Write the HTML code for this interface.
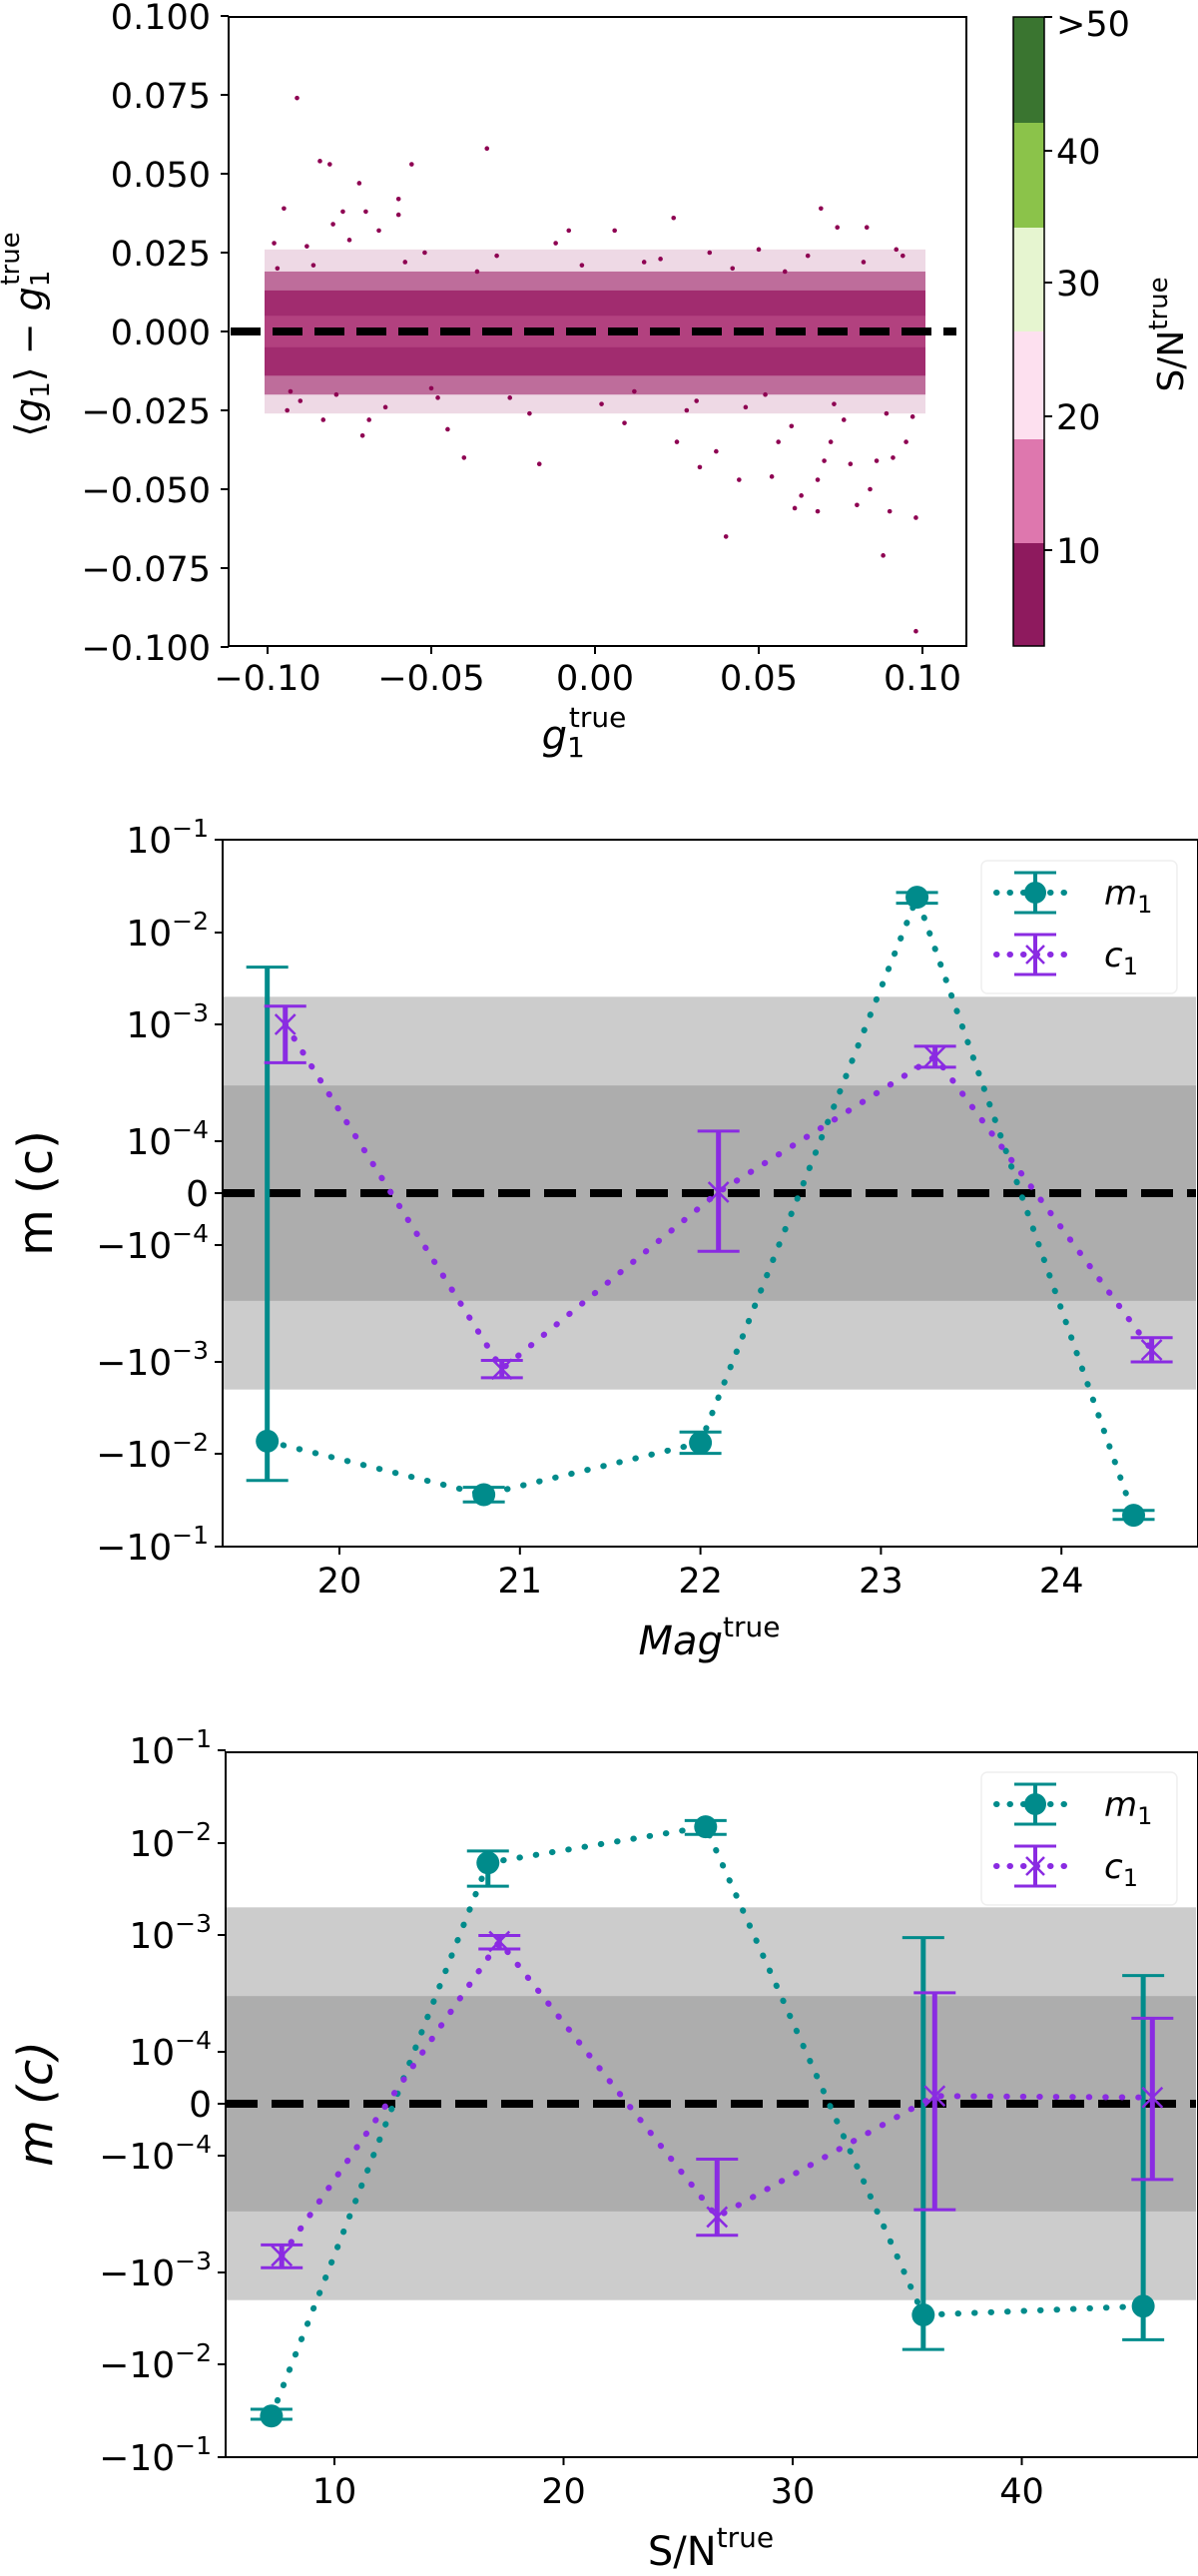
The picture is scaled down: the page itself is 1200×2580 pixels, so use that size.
<!DOCTYPE html>
<html><head><meta charset="utf-8"><style>
html,body{margin:0;padding:0;background:#fff;overflow:hidden}
svg{display:block}
text{font-family:"DejaVu Sans","Liberation Sans",sans-serif;fill:#000}
</style></head><body>
<svg id="fig" width="1200" height="2580" viewBox="0 0 1200 2580" xmlns="http://www.w3.org/2000/svg">
<g id="p1"></g>
<g id="p2"></g>
<g id="p3"></g>
</svg>
<script>
// ---------- Panel 1 data ----------
const scatX=[-0.091,-0.084,-0.081,-0.072,-0.056,-0.033,-0.060,-0.095,-0.077,-0.070,-0.060,0.024,0.069,0.074,0.083,-0.080,-0.066,-0.008,0.006,-0.040,-0.017,0.032,0.040,0.044,0.054,0.061,0.063,0.068,0.068,0.080,0.084,0.088,0.090,0.098,0.098,0.078,0.072,0.056,0.037,0.025,-0.071,-0.094,-0.083,-0.045,-0.069,0.009,0.095,0.086,0.070,0.091,-0.098,-0.088,-0.075,-0.052,-0.030,-0.012,0.015,0.035,0.050,0.065,0.092,-0.090,-0.064,-0.048,-0.020,0.002,0.028,0.046,0.060,0.076,0.097,-0.097,-0.086,-0.058,-0.036,-0.004,0.020,0.042,0.058,0.082,0.094,-0.093,-0.079,-0.050,-0.026,0.012,0.031,0.052,0.073,0.089];
const scatY=[0.074,0.054,0.053,0.047,0.053,0.058,0.042,0.039,0.038,0.038,0.037,0.036,0.039,0.033,0.033,0.034,0.032,0.032,0.032,-0.040,-0.042,-0.043,-0.065,-0.047,-0.046,-0.056,-0.052,-0.057,-0.047,-0.055,-0.050,-0.071,-0.057,-0.059,-0.095,-0.042,-0.035,-0.035,-0.038,-0.035,-0.033,-0.025,-0.028,-0.031,-0.028,-0.029,-0.035,-0.041,-0.041,-0.040,0.028,0.027,0.029,0.025,0.024,0.028,0.022,0.025,0.026,0.024,0.026,-0.022,-0.024,-0.021,-0.026,-0.023,-0.025,-0.024,-0.030,-0.028,-0.027,0.020,0.021,0.022,0.019,0.021,0.023,0.020,0.019,0.022,0.024,-0.019,-0.020,-0.018,-0.021,-0.019,-0.022,-0.020,-0.023,-0.026];
const p1XTicks=[-0.10,-0.05,0.00,0.05,0.10];
const p1XLabels=["\u22120.10","\u22120.05","0.00","0.05","0.10"];
const p1YTicks=[0.1,0.075,0.05,0.025,0,-0.025,-0.05,-0.075,-0.1];
const p1YLabels=["0.100","0.075","0.050","0.025","0.000","\u22120.025","\u22120.050","\u22120.075","\u22120.100"];
const cbLabels=["10","20","30","40",">50"];

// ---------- Panel 2 data ----------
const magX_m=[19.6,20.8,22.0,23.2,24.4];
const magM=[-7.3e-3,-2.76e-2,-7.6e-3,2.4e-2,-4.6e-2];
const magM_hi=[4.2e-3,-2.3e-2,-5.8e-3,2.7e-2,-4.07e-2];
const magM_lo=[-1.94e-2,-3.3e-2,-9.9e-3,2.07e-2,-5.1e-2];
const magX_c=[19.7,20.9,22.1,23.3,24.5];
const magC=[1.0e-3,-1.2e-3,2e-6,5.3e-4,-7.9e-4];
const magC_hi=[1.58e-3,-9.7e-4,1.22e-4,6.5e-4,-6.2e-4];
const magC_lo=[4.7e-4,-1.49e-3,-1.13e-4,4.3e-4,-1.0e-3];
const magXTicks=[20,21,22,23,24];

// ---------- Panel 3 data ----------
const snrX_m=[7.25,16.7,26.2,35.7,45.3];
const snrM=[-3.6e-2,6.1e-3,1.5e-2,-2.9e-3,-2.33e-3];
const snrM_hi=[-3.05e-2,8.2e-3,1.75e-2,9.5e-4,4.5e-4];
const snrM_lo=[-3.9e-2,3.4e-3,1.24e-2,-6.9e-3,-5.4e-3];
const snrX_c=[7.7,17.2,26.7,36.2,45.7];
const snrC=[-7.2e-4,8.8e-4,-3.35e-4,1.5e-5,1.2e-5];
const snrC_hi=[-5.8e-4,9.9e-4,-1.07e-4,3.2e-4,1.94e-4];
const snrC_lo=[-9.1e-4,7.6e-4,-4.8e-4,-2.9e-4,-1.6e-4];
const snrXTicks=[10,20,30,40];

const symTicks=[1e-1,1e-2,1e-3,1e-4,0,-1e-4,-1e-3,-1e-2,-1e-1];
const symExp=["\u22121","\u22122","\u22123","\u22124","","\u22124","\u22123","\u22122","\u22121"];
const bandLight=2e-3, bandDark=3e-4;

const NS="http://www.w3.org/2000/svg";
function mk(parent,tag,attrs){const e=document.createElementNS(NS,tag);for(const k in attrs)e.setAttribute(k,attrs[k]);parent.appendChild(e);return e;}

// ===== Panel 1 =====
(function(){
const g=document.getElementById('p1');
const L=229,R=968,T=17,B=647;
const xs=v=>268+(v+0.1)*3280;
const ys=v=>332-v/0.025*79;
let e=mk(g,'rect',{x:xs(-0.1)-3,y:ys(0.026),width:xs(0.1)-xs(-0.1)+6,height:ys(-0.026)-ys(0.026),fill:'#8e0152',opacity:0.15});

e=mk(g,'rect',{x:xs(-0.1)-3,y:ys(0.019),width:xs(0.1)-xs(-0.1)+6,height:ys(-0.02)-ys(0.019),fill:'#8e0152',opacity:0.5});

e=mk(g,'rect',{x:xs(-0.1)-3,y:ys(0.013),width:xs(0.1)-xs(-0.1)+6,height:ys(-0.014)-ys(0.013),fill:'#8e0152',opacity:0.6});

e=mk(g,'rect',{x:xs(-0.1)-3,y:ys(0.005),width:xs(0.1)-xs(-0.1)+6,height:ys(-0.005)-ys(0.005),fill:'#c85a92',opacity:0.45});

for(let i=0;i<scatX.length;i++){
  const c=mk(g,'circle',{cx:xs(scatX[i]),cy:ys(scatY[i]),r:2.3,fill:'#8e0152'});
  
  
}
e=mk(g,'line',{x1:231,x2:958,y1:ys(0),y2:ys(0),stroke:'#000','stroke-width':8,'stroke-dasharray':'30 12'});

e=mk(g,'rect',{x:L,y:T,width:R-L,height:B-T,fill:'none',stroke:'#000','stroke-width':2});

p1XTicks.forEach((v,i)=>{
  mk(g,'line',{x1:xs(v),x2:xs(v),y1:B,y2:B+8,stroke:'#000','stroke-width':2});
  const t=mk(g,'text',{x:xs(v),y:691,'font-size':35,'text-anchor':'middle'});t.textContent=p1XLabels[i];
  
});
p1YTicks.forEach((v,i)=>{
  mk(g,'line',{x1:L-8,x2:L,y1:ys(v),y2:ys(v),stroke:'#000','stroke-width':2});
  const t=mk(g,'text',{x:211,y:ys(v)+13,'font-size':35,'text-anchor':'end'});t.textContent=p1YLabels[i];
  
});
let t=mk(g,'text',{x:585,y:750,'font-size':40,'text-anchor':'middle','font-style':'italic'});
t.innerHTML='g<tspan font-size="28" dy="8" font-style="normal">1</tspan><tspan font-size="28" dy="-30" dx="-16" font-style="normal">true</tspan>';

t=mk(g,'text',{x:0,y:0,'font-size':38,'text-anchor':'middle',transform:'translate(42,335) rotate(-90)'});
t.innerHTML='\u27E8<tspan font-style="italic">g</tspan><tspan font-size="26" dy="7">1</tspan><tspan dy="-7">\u27E9 \u2212 </tspan><tspan font-style="italic">g</tspan><tspan font-size="26" dy="7">1</tspan><tspan font-size="26" dy="-30" dx="-15">true</tspan>';

const cbCols=['#8e1a5e','#de77ae','#fde0ef','#e6f5d0','#8bc34a','#3a7530'];
const cbEdges=[647,544,440,332,228,123,17];
for(let i=0;i<6;i++){
  const r=mk(g,'rect',{x:1015,y:cbEdges[i+1],width:31,height:cbEdges[i]-cbEdges[i+1],fill:cbCols[i]});
  
}
mk(g,'rect',{x:1015,y:17,width:31,height:630,fill:'none',stroke:'#000','stroke-width':1.5});
const cbTickY=[551,417,283,151,17];
cbLabels.forEach((s,i)=>{
  mk(g,'line',{x1:1046,x2:1054,y1:cbTickY[i],y2:cbTickY[i],stroke:'#000','stroke-width':2});
  const tt=mk(g,'text',{x:1058,y:cbTickY[i]+13+(i==4?6:0),'font-size':35});tt.textContent=s;
  
});
t=mk(g,'text',{x:0,y:0,'font-size':36,'text-anchor':'middle',transform:'translate(1185,335) rotate(-90)'});
t.innerHTML='S/N<tspan font-size="26" dy="-16">true</tspan>';

})();

// ===== symlog panels =====
function symY(y0){
  const off=[0,52,169,261,354];
  return v=>{const a=Math.abs(v);let d;
    if(a<=1e-4)d=a/1e-4*off[1];
    else{const l=Math.log10(a/1e-4);const k=Math.min(Math.floor(l),2);d=off[k+1]+(l-k)*(off[k+2]-off[k+1]);}
    return y0-(v<0?-d:d);};
}
function symPanel(gid,L,R,T,B,y0,xs,xTicks,xm,m,mhi,mlo,xc,c,chi,clo,xTitle,yItalic,legY){
const g=document.getElementById(gid);
const ys=symY(y0);
let e=mk(g,'rect',{x:L,y:ys(bandLight),width:R-L,height:ys(-bandLight)-ys(bandLight),fill:'#cccccc'});

e=mk(g,'rect',{x:L,y:ys(bandDark),width:R-L,height:ys(-bandDark)-ys(bandDark),fill:'#adadad'});

e=mk(g,'line',{x1:L,x2:R,y1:ys(0),y2:ys(0),stroke:'#000','stroke-width':8,'stroke-dasharray':'32 14'});

function series(xv,yv,hi,lo,col,kind,name){
  const pts=xv.map((x,i)=>xs(x)+','+ys(yv[i])).join(' ');
  const pl=mk(g,'polyline',{points:pts,fill:'none',stroke:col,'stroke-width':6,'stroke-dasharray':'0.5 16','stroke-linecap':'round'});
  
  xv.forEach((x,i)=>{
    const X=xs(x);
    const eb=mk(g,'g',{stroke:col});
    
    mk(eb,'line',{x1:X,x2:X,y1:ys(hi[i]),y2:ys(lo[i]),'stroke-width':5});
    mk(eb,'line',{x1:X-21,x2:X+21,y1:ys(hi[i]),y2:ys(hi[i]),'stroke-width':3});
    mk(eb,'line',{x1:X-21,x2:X+21,y1:ys(lo[i]),y2:ys(lo[i]),'stroke-width':3});
    const Y=ys(yv[i]);
    if(kind==='o'){const cc=mk(g,'circle',{cx:X,cy:Y,r:11.5,fill:col});}
    else{const mx=mk(g,'path',{d:`M${X-10},${Y-10}L${X+10},${Y+10}M${X-10},${Y+10}L${X+10},${Y-10}`,stroke:col,'stroke-width':2.5});}
  });
}
series(xm,m,mhi,mlo,'#008b8b','o','m1');
series(xc,c,chi,clo,'#8a2be2','x','c1');
e=mk(g,'rect',{x:L,y:T,width:R-L+2,height:B-T,fill:'none',stroke:'#000','stroke-width':2});

xTicks.forEach(v=>{
  mk(g,'line',{x1:xs(v),x2:xs(v),y1:B,y2:B+8,stroke:'#000','stroke-width':2});
  const t=mk(g,'text',{x:xs(v),y:B+46,'font-size':35,'text-anchor':'middle'});t.textContent=v;
  
});
symTicks.forEach((v,i)=>{
  const Y=ys(v);
  mk(g,'line',{x1:L-8,x2:L,y1:Y,y2:Y,stroke:'#000','stroke-width':2});
  const t=mk(g,'text',{x:L-14,y:Y+13,'font-size':36,'text-anchor':'end'});
  if(v===0)t.textContent='0';
  else t.innerHTML=(v<0?'\u2212':'')+'10<tspan font-size="25" dy="-16">'+symExp[i]+'</tspan>';
  
});
let t=mk(g,'text',{x:(L+R)/2,y:B+108,'font-size':40,'text-anchor':'middle'});
t.innerHTML=xTitle;
t=mk(g,'text',{x:0,y:0,'font-size':48,'text-anchor':'middle','font-style':yItalic?'italic':'normal',transform:`translate(52,${y0}) rotate(-90)`});
t.textContent='m (c)';
const lg=mk(g,'g',{});
mk(lg,'rect',{x:983,y:legY,width:196,height:133,rx:6,fill:'#fff',stroke:'#eee','stroke-width':1.5,opacity:0.9});
[['#008b8b','o','m'],['#8a2be2','x','c']].forEach((s,k)=>{
  const Y=legY+32+k*62;
  const en=mk(lg,'g',{});
  mk(en,'line',{x1:998,x2:1076,y1:Y,y2:Y,stroke:s[0],'stroke-width':6,'stroke-dasharray':'0.5 13','stroke-linecap':'round'});
  mk(en,'line',{x1:1037,x2:1037,y1:Y-20,y2:Y+20,stroke:s[0],'stroke-width':4});
  mk(en,'line',{x1:1016,x2:1058,y1:Y-20,y2:Y-20,stroke:s[0],'stroke-width':3});
  mk(en,'line',{x1:1016,x2:1058,y1:Y+20,y2:Y+20,stroke:s[0],'stroke-width':3});
  if(s[1]==='o')mk(en,'circle',{cx:1037,cy:Y,r:11,fill:s[0]});
  else mk(en,'path',{d:`M1028,${Y-9}L1046,${Y+9}M1028,${Y+9}L1046,${Y-9}`,stroke:s[0],'stroke-width':2.5});
  const tt=mk(en,'text',{x:1106,y:Y+12,'font-size':34,'font-style':'italic'});
  tt.innerHTML=s[2]+'<tspan font-size="24" dy="8" font-style="normal">1</tspan>';
});
}
symPanel('p2',223,1198,841,1549,1195,v=>340+(v-20)*180.8,magXTicks,magX_m,magM,magM_hi,magM_lo,magX_c,magC,magC_hi,magC_lo,
 '<tspan font-style="italic">Mag</tspan><tspan font-size="28" dy="-18">true</tspan>',false,862);
symPanel('p3',226,1198,1755,2461,2107,v=>335+(v-10)*22.95,snrXTicks,snrX_m,snrM,snrM_hi,snrM_lo,snrX_c,snrC,snrC_hi,snrC_lo,
 'S/N<tspan font-size="28" dy="-18">true</tspan>',true,1775);
</script>
</body></html>
